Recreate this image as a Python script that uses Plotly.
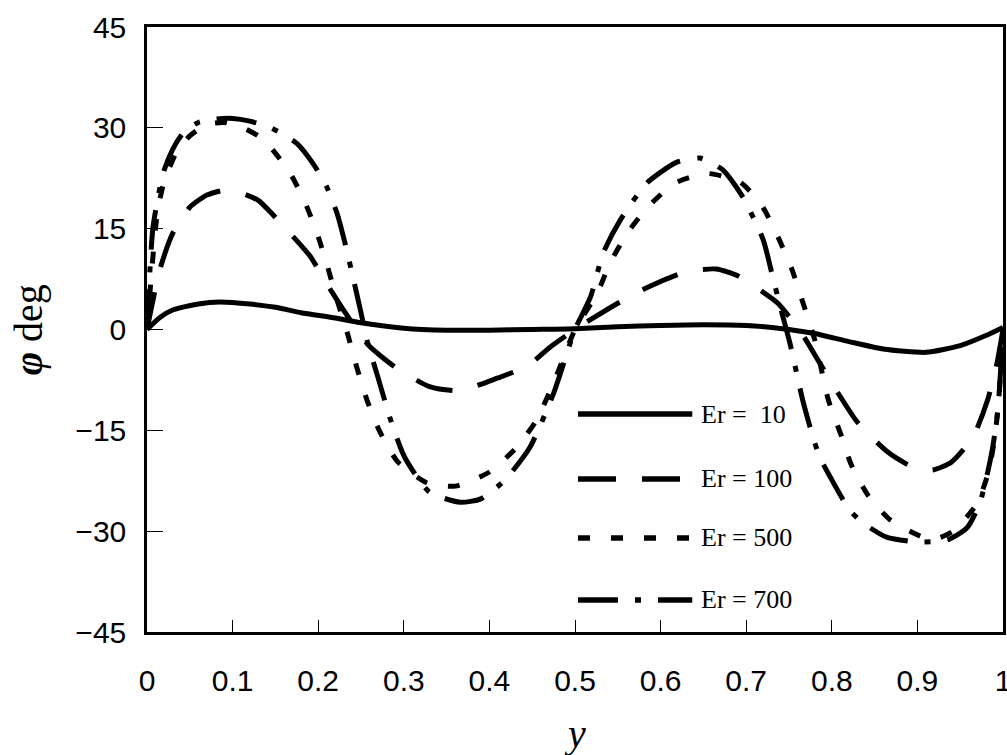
import plotly.graph_objects as go

# Position across the channel (y) and director angle phi (deg) for each Ericksen number
y_er10 = [0, 0.015, 0.03, 0.06, 0.085, 0.12, 0.15, 0.18, 0.22, 0.25, 0.30, 0.35, 0.40, 0.45, 0.50,
          0.55, 0.60, 0.65, 0.70, 0.73, 0.75, 0.78, 0.82, 0.86, 0.91, 0.95, 0.98, 1.0]
phi_er10 = [0, 1.8, 2.9, 3.8, 4.1, 3.8, 3.3, 2.5, 1.7, 1.0, 0.2, -0.1, -0.1, 0.0, 0.1,
            0.4, 0.6, 0.7, 0.6, 0.3, 0.0, -0.6, -1.8, -2.9, -3.4, -2.4, -0.9, 0.3]

y_er100 = [0, 0.015, 0.03, 0.05, 0.07, 0.09, 0.11, 0.13, 0.16, 0.19, 0.21, 0.23, 0.245, 0.26,
           0.29, 0.33, 0.365, 0.41, 0.445, 0.47, 0.5, 0.52, 0.55, 0.585, 0.63, 0.665, 0.69,
           0.71, 0.737, 0.765, 0.785, 0.81, 0.83, 0.865, 0.895, 0.918, 0.94, 0.965, 0.982,
           0.993, 1.0]
phi_er100 = [0, 8.9, 14.3, 18.2, 20.0, 20.7, 20.3, 19.2, 15.3, 11.0, 6.8, 2.8, 0, -2.5,
             -5.6, -8.5, -9.1, -7.2, -5.4, -2.7, 0, 1.6, 3.9, 6.3, 8.6, 9.0, 8.0,
             6.4, 3.9, -0.6, -4.8, -10.0, -13.8, -18.2, -20.5, -20.9, -19.7, -16.0, -10.5,
             -5.0, 0]

y_er500 = [0, 0.012, 0.02, 0.035, 0.05, 0.07, 0.09, 0.109, 0.13, 0.145, 0.167, 0.185, 0.2,
           0.211, 0.222, 0.234, 0.245, 0.257, 0.272, 0.293, 0.327, 0.36, 0.4, 0.432, 0.455,
           0.478, 0.5, 0.526, 0.541, 0.562, 0.585, 0.617, 0.655, 0.693, 0.718, 0.737, 0.753,
           0.766, 0.78, 0.796, 0.81, 0.823, 0.842, 0.868, 0.907, 0.925, 0.944, 0.97, 0.983,
           0.99, 0.995, 1.0]
phi_er500 = [0, 17.3, 22.0, 26.5, 28.8, 30.5, 30.8, 30.2, 28.8, 27.0, 23.3, 18.8, 13.8,
             9.3, 4.4, -0.5, -5.6, -10.5, -15.2, -19.7, -22.8, -23.3, -21.2, -17.5, -13.5,
             -7.0, 0, 5.4, 9.9, 14.5, 18.2, 21.8, 23.2, 21.9, 18.5, 13.8, 9.1,
             4.1, -1.5, -10.5, -15.4, -20.2, -24.6, -28.3, -30.9, -31.0, -29.8, -25.8, -21.2,
             -16.4, -10.5, 0]

y_er700 = [0, 0.007, 0.019, 0.03, 0.042, 0.06, 0.08, 0.1, 0.12, 0.145, 0.175, 0.195, 0.21,
           0.222, 0.232, 0.242, 0.25, 0.257, 0.27, 0.284, 0.301, 0.33, 0.366, 0.39, 0.418,
           0.447, 0.475, 0.5, 0.518, 0.533, 0.553, 0.584, 0.619, 0.646, 0.673, 0.696, 0.72,
           0.731, 0.74, 0.751, 0.766, 0.778, 0.786, 0.798, 0.821, 0.839, 0.864, 0.899, 0.935,
           0.958, 0.973, 0.982, 0.988, 0.994, 1.0]
phi_er700 = [0, 15.2, 23.3, 26.8, 29.2, 30.8, 31.3, 31.4, 31.0, 30.0, 27.7, 24.5, 21.2,
             17.3, 12.5, 7.0, 2.5, -1.6, -7.2, -13.2, -19.0, -24.2, -25.7, -25.2, -22.4,
             -17.6, -9.5, 0, 4.8, 11.4, 16.3, 21.8, 24.9, 25.5, 23.7, 19.7, 13.3,
             7.8, 3.3, -2.0, -10.5, -16.0, -19.0, -21.9, -26.9, -29.0, -30.9, -31.6, -31.3,
             -29.5, -25.8, -21.3, -17.5, -12.0, 0]

series_labels = ["Er =  10", "Er = 100", "Er = 500", "Er = 700"]
dash_styles = ["solid", "38px,26px", "12px,21px", "40px,17px,6px,17px"]

x_ticks = [0, 0.1, 0.2, 0.3, 0.4, 0.5, 0.6, 0.7, 0.8, 0.9, 1]
x_tick_text = ["0", "0.1", "0.2", "0.3", "0.4", "0.5", "0.6", "0.7", "0.8", "0.9", "1"]
y_ticks = [-45, -30, -15, 0, 15, 30, 45]

tick_font = dict(family="Liberation Sans Narrow, Arial Narrow, Liberation Sans, sans-serif",
                 size=30, color="black")
serif = "Liberation Serif, Times New Roman, serif"

fig = go.Figure()
data = [(y_er10, phi_er10), (y_er100, phi_er100), (y_er500, phi_er500), (y_er700, phi_er700)]
for (xs, ys), name, dash in zip(data, series_labels, dash_styles):
    fig.add_trace(go.Scatter(
        x=xs, y=ys, mode="lines", name=name,
        line=dict(color="black", width=5, dash=dash, shape="spline", smoothing=0.6),
        showlegend=False,
    ))

# Legend drawn inside the plot area: long line samples with serif labels
legend_rows = [0.3603, 0.2529, 0.1554, 0.0529]
for row, name, dash in zip(legend_rows, series_labels, dash_styles):
    fig.add_shape(type="line", xref="paper", yref="paper",
                  x0=0.5035, x1=0.637, y0=row, y1=row,
                  line=dict(color="black", width=5.5, dash=dash))
    fig.add_annotation(xref="paper", yref="paper", x=0.645, y=row,
                       text=name, showarrow=False, xanchor="left", yanchor="middle",
                       font=dict(family=serif, size=26, color="black"))

fig.add_annotation(xref="paper", yref="paper", x=-0.138, y=0.50,
                   text="<i><b>φ</b></i> deg", showarrow=False, textangle=-90,
                   xanchor="center", yanchor="middle",
                   font=dict(family=serif, size=40, color="black"))
fig.add_annotation(xref="paper", yref="paper", x=0.5, y=-0.168,
                   text="<i>y</i>", showarrow=False, xanchor="center", yanchor="middle",
                   font=dict(family=serif, size=40, color="black"))

fig.update_xaxes(range=[0, 1], tickvals=x_ticks, ticktext=x_tick_text,
                 ticks="inside", ticklen=12, tickwidth=1, tickcolor="black",
                 showline=True, linewidth=2.5, linecolor="black", mirror=True,
                 showgrid=False, zeroline=False, tickfont=tick_font,
                 ticklabelstandoff=20, ticklabeloverflow="allow", automargin=False)
fig.update_yaxes(range=[-45, 45], tickvals=y_ticks,
                 ticks="inside", ticklen=16, tickwidth=1, tickcolor="black",
                 showline=True, linewidth=2.5, linecolor="black", mirror=True,
                 showgrid=False, zeroline=False, tickfont=tick_font,
                 ticklabelstandoff=12, automargin=False)

fig.update_layout(
    width=1007, height=755,
    margin=dict(l=147, r=4, t=27, b=123),
    paper_bgcolor="white", plot_bgcolor="white",
    showlegend=False,
)

fig.write_html("out.html")
